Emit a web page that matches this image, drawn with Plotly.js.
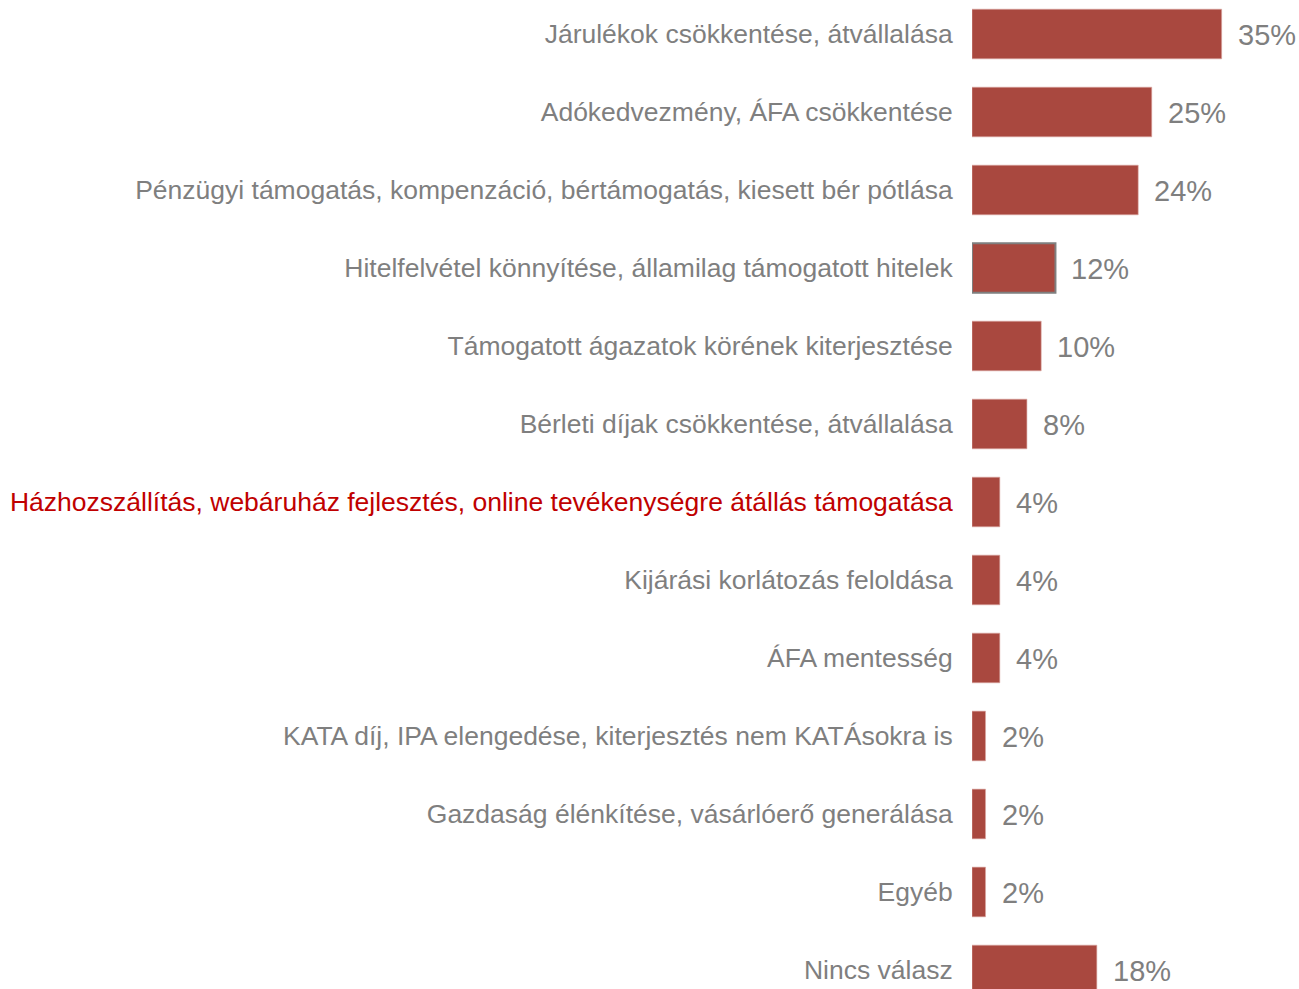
<!DOCTYPE html>
<html>
<head>
<meta charset="utf-8">
<script src="https://cdn.plot.ly/plotly-3.0.1.min.js"></script>
<style>html,body{margin:0;padding:0;background:#fff;}#chart{width:1299px;height:989px;}</style>
</head>
<body>
<div id="chart"></div>
<script>
const categories = [
  "Járulékok csökkentése, átvállalása",
  "Adókedvezmény, ÁFA csökkentése",
  "Pénzügyi támogatás, kompenzáció, bértámogatás, kiesett bér pótlása",
  "Hitelfelvétel könnyítése, államilag támogatott hitelek",
  "Támogatott ágazatok körének kiterjesztése",
  "Bérleti díjak csökkentése, átvállalása",
  "Házhozszállítás, webáruház fejlesztés, online tevékenységre átállás támogatása",
  "Kijárási korlátozás feloldása",
  "ÁFA mentesség",
  "KATA díj, IPA elengedése, kiterjesztés nem KATÁsokra is",
  "Gazdaság élénkítése, vásárlóerő generálása",
  "Egyéb",
  "Nincs válasz"
];
const values = [35, 25.2, 23.3, 11.7, 9.7, 7.7, 3.9, 3.9, 3.9, 1.9, 1.9, 1.9, 17.5];
const valueLabels = ["35%", "25%", "24%", "12%", "10%", "8%", "4%", "4%", "4%", "2%", "2%", "2%", "18%"];
const highlighted = ["Házhozszállítás, webáruház fejlesztés, online tevékenységre átállás támogatása"];
const outlined = ["Hitelfelvétel könnyítése, államilag támogatott hitelek"];

const GREY = "#7F7F7F";
const RED = "#C00000";
const BAR = "#A9483F";

const tickText = categories.map(c => highlighted.includes(c) ? '<span style="color:' + RED + '">' + c + '</span>' : c);
const lineColors = categories.map(c => outlined.includes(c) ? GREY : "rgba(220,170,165,0.8)");
const lineWidths = categories.map(c => outlined.includes(c) ? 2 : 0.75);

const trace = {
  type: "bar",
  orientation: "h",
  x: values,
  y: categories,
  width: 0.637,
  marker: {color: BAR, line: {color: lineColors, width: lineWidths}},
  hoverinfo: "none"
};

const annotations = categories.map((c, i) => ({
  x: values[i], y: c, xref: "x", yref: "y",
  text: valueLabels[i], showarrow: false,
  xanchor: "left", yanchor: "middle", xshift: 14, yshift: -1,
  font: {family: "Liberation Sans, Arial, sans-serif", size: 29, color: GREY}
}));

const layout = {
  width: 1299, height: 989,
  margin: {l: 972, r: 0, t: 0, b: 0, pad: 0},
  paper_bgcolor: "#fff", plot_bgcolor: "#fff",
  showlegend: false,
  font: {family: "Liberation Sans, Arial, sans-serif", color: GREY},
  xaxis: {range: [0, 45.84], visible: false, fixedrange: true},
  yaxis: {
    type: "category",
    range: [12.244, -0.436],
    tickmode: "array", tickvals: categories, ticktext: tickText,
    ticks: "outside", ticklen: 13, tickcolor: "rgba(0,0,0,0)",
    showline: false, showgrid: false, zeroline: false,
    tickfont: {family: "Liberation Sans, Arial, sans-serif", size: 26.5, color: GREY},
    automargin: false
  },
  annotations: annotations
};

Plotly.newPlot("chart", [trace], layout, {displayModeBar: false, staticPlot: true});
</script>
</body>
</html>
